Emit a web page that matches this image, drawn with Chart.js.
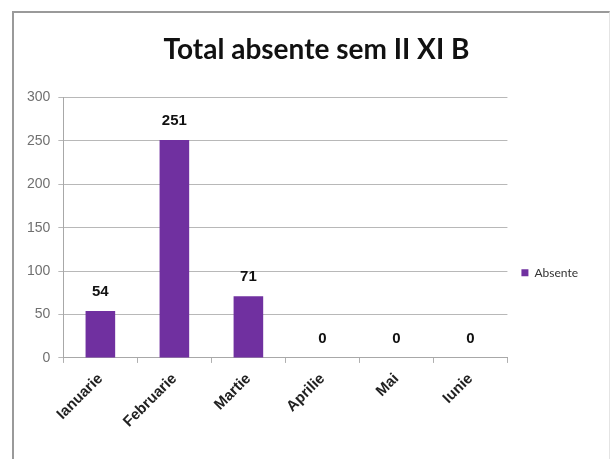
<!DOCTYPE html>
<html>
<head>
<meta charset="utf-8">
<script src="https://cdn.jsdelivr.net/npm/chart.js@4/dist/chart.umd.min.js"></script>
<style>
  html, body { margin: 0; padding: 0; background: #fff; }
  #wrap { position: relative; width: 615px; height: 459px; }
  #frame {
    position: absolute; left: 12px; top: 11px; width: 595px; height: 460px;
    border-left: 2px solid #9a9a9a; border-top: 2px solid #9a9a9a; border-right: 1px solid #e4e4e4;
  }
  canvas { position: absolute; left: 0; top: 0; }
</style>
</head>
<body>
<div id="wrap">
  <div id="frame"></div>
  <canvas id="absChart" width="615" height="459"></canvas>
</div>
<script>
const months = ['Ianuarie', 'Februarie', 'Martie', 'Aprilie', 'Mai', 'Iunie'];
const absente = [54, 251, 71, 0, 0, 0];
const yTicks = [0, 50, 100, 150, 200, 250, 300];
const seriesName = 'Absente';
const barColor = '#7030a0';

// value labels over each bar
const valueLabels = {
  id: 'valueLabels',
  afterDatasetsDraw(chart) {
    const ctx = chart.ctx;
    const meta = chart.getDatasetMeta(0);
    ctx.save();
    ctx.font = 'bold 15px "Liberation Sans", Arial, sans-serif';
    ctx.fillStyle = '#111';
    ctx.textAlign = 'center';
    ctx.textBaseline = 'middle';
    meta.data.forEach((bar, i) => {
      ctx.fillText(String(absente[i]), bar.x, bar.y - 19);
    });
    ctx.restore();
  }
};

// centre the title on the whole canvas rather than the padded box
const titleShift = {
  id: 'titleShift',
  afterLayout(chart) {
    const tb = chart.titleBlock;
    if (tb) { tb.left += 13; tb.right += 13; }
  }
};

new Chart(document.getElementById('absChart'), {
  type: 'bar',
  data: {
    labels: months,
    datasets: [{
      label: seriesName,
      data: absente,
      backgroundColor: barColor,
      barPercentage: 0.8,
      categoryPercentage: 0.5
    }]
  },
  options: {
    responsive: false,
    animation: false,
    layout: { padding: { left: 19, right: 27, top: 0, bottom: 21 } },
    plugins: {
      legend: {
        position: 'right',
        align: 'center',
        // empty legend title pushes the entry down below the plot centre
        title: { display: true, text: '', padding: { top: 0, bottom: 93 } },
        labels: {
          boxWidth: 7, boxHeight: 7, padding: 14,
          color: '#333',
          font: { family: 'Lato, "Open Sans", sans-serif', size: 12 }
        }
      },
      tooltip: { enabled: false },
      title: {
        display: true,
        text: 'Total absente sem II XI B',
        color: '#111',
        font: { family: 'Lato, "Open Sans", sans-serif', size: 28, weight: 'bold' },
        padding: { top: 33, bottom: 31 }
      }
    },
    scales: {
      x: {
        grid: { offset: true, drawOnChartArea: false, drawTicks: true, tickLength: 5, color: '#b0b0b0' },
        border: { color: '#a8a8a8', width: 1 },
        ticks: {
          minRotation: 45, maxRotation: 45,
          color: '#222',
          font: { family: '"Liberation Sans", Arial, sans-serif', size: 15, weight: 'bold' },
          padding: 7
        }
      },
      y: {
        min: 0, max: 300,
        afterBuildTicks(axis) { axis.ticks = yTicks.map(v => ({ value: v })); },
        grid: { color: '#b8b8b8', tickLength: 5, lineWidth: 1 },
        border: { color: '#a8a8a8', width: 1 },
        ticks: {
          color: '#707070',
          font: { family: '"Liberation Sans", Arial, sans-serif', size: 14 },
          padding: 8
        }
      }
    }
  },
  plugins: [valueLabels, titleShift]
});
</script>
</body>
</html>
